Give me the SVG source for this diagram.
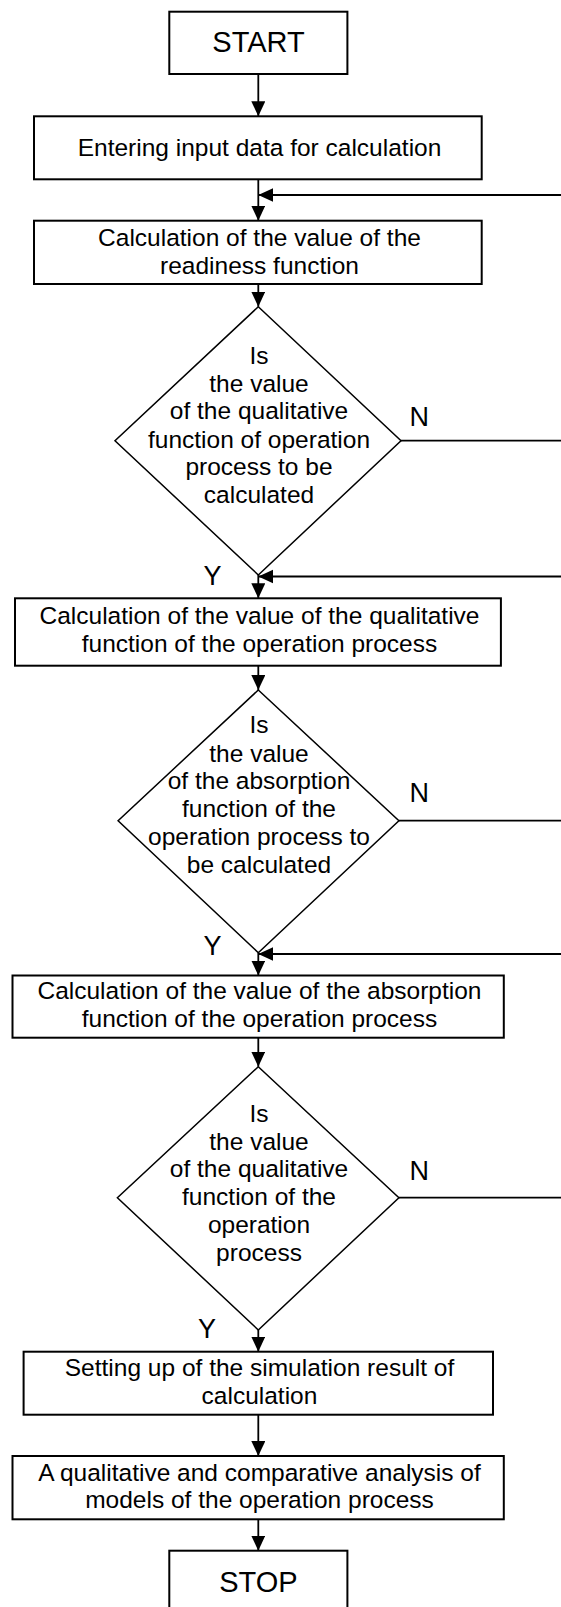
<svg xmlns="http://www.w3.org/2000/svg" width="561" height="1607" viewBox="0 0 561 1607">
<style>
  .box{fill:#fff;stroke:#000;stroke-width:2}
  .dia{fill:#fff;stroke:#000;stroke-width:1.5}
  .t{font-family:"Liberation Sans",Arial,sans-serif;font-size:24.5px;fill:#000;text-anchor:middle}
  .big{font-family:"Liberation Sans",Arial,sans-serif;font-size:29px;fill:#000;text-anchor:middle}
  .lbl{font-family:"Liberation Sans",Arial,sans-serif;font-size:27px;fill:#000}
  .c{fill:none;stroke:#000;stroke-width:1.8}
</style>
<defs>
  <marker id="ah" markerUnits="userSpaceOnUse" markerWidth="16" markerHeight="15" refX="15" refY="7" orient="auto">
    <path d="M0,0 L15,7 L0,14 z" fill="#000"/>
  </marker>
</defs>
<rect width="561" height="1607" fill="#fff"/>
<g id="connectors">
  <line class="c" x1="258.3" y1="74" x2="258.3" y2="116.3" marker-end="url(#ah)"/>
  <line class="c" x1="258.3" y1="179.3" x2="258.3" y2="220.7" marker-end="url(#ah)"/>
  <line class="c" x1="561" y1="195" x2="258.3" y2="195" marker-end="url(#ah)"/>
  <line class="c" x1="258.3" y1="284" x2="258.3" y2="306.7" marker-end="url(#ah)"/>
  <line class="c" x1="401" y1="440.7" x2="561" y2="440.7"/>
  <line class="c" x1="561" y1="576.5" x2="258.3" y2="576.5" marker-end="url(#ah)"/>
  <line class="c" x1="258.3" y1="575" x2="258.3" y2="598.3" marker-end="url(#ah)"/>
  <line class="c" x1="258.3" y1="665.7" x2="258.3" y2="690" marker-end="url(#ah)"/>
  <line class="c" x1="398.9" y1="820.7" x2="561" y2="820.7"/>
  <line class="c" x1="561" y1="954" x2="258.3" y2="954" marker-end="url(#ah)"/>
  <line class="c" x1="258.3" y1="952.7" x2="258.3" y2="975.5" marker-end="url(#ah)"/>
  <line class="c" x1="258.3" y1="1037.7" x2="258.3" y2="1066.7" marker-end="url(#ah)"/>
  <line class="c" x1="398.9" y1="1197.7" x2="561" y2="1197.7"/>
  <line class="c" x1="258.3" y1="1330" x2="258.3" y2="1351.7" marker-end="url(#ah)"/>
  <line class="c" x1="258.3" y1="1414.7" x2="258.3" y2="1456" marker-end="url(#ah)"/>
  <line class="c" x1="258.3" y1="1519.3" x2="258.3" y2="1550.7" marker-end="url(#ah)"/>
  <text class="lbl" x="409.5" y="426">N</text>
  <text class="lbl" x="203.5" y="585">Y</text>
  <text class="lbl" x="409.5" y="802.3">N</text>
  <text class="lbl" x="203.5" y="955">Y</text>
  <text class="lbl" x="409.5" y="1180">N</text>
  <text class="lbl" x="198" y="1338.3">Y</text>
</g>
<g id="start">
  <rect class="box" x="169.3" y="11.7" width="178.1" height="62.3"/>
  <text class="big" x="258.5" y="52.3">START</text>
</g>
<g id="input">
  <rect class="box" x="34" y="116.3" width="447.7" height="63"/>
  <text class="t" x="259.5" y="155.5">Entering input data for calculation</text>
</g>
<g id="readiness">
  <rect class="box" x="34" y="220.7" width="447.7" height="63.3"/>
  <text class="t" x="259.5" y="245.7">Calculation of the value of the</text>
  <text class="t" x="259.5" y="273.5">readiness function</text>
</g>
<g id="decision1">
  <polygon class="dia" points="258.3,306.7 401,440.7 258.3,575 115,440.7"/>
  <text class="t" x="259" y="364">Is</text>
  <text class="t" x="259" y="391.7">the value</text>
  <text class="t" x="259" y="419.3">of the qualitative</text>
  <text class="t" x="259" y="447.7">function of operation</text>
  <text class="t" x="259" y="475">process to be</text>
  <text class="t" x="259" y="502.7">calculated</text>
</g>
<g id="qualitative">
  <rect class="box" x="15" y="598.3" width="485.9" height="67.4"/>
  <text class="t" x="259.5" y="624">Calculation of the value of the qualitative</text>
  <text class="t" x="259.5" y="651.7">function of the operation process</text>
</g>
<g id="decision2">
  <polygon class="dia" points="258.3,690 398.9,820.7 258.3,952.7 118.1,820.7"/>
  <text class="t" x="259" y="733.3">Is</text>
  <text class="t" x="259" y="761.7">the value</text>
  <text class="t" x="259" y="789.3">of the absorption</text>
  <text class="t" x="259" y="817.3">function of the</text>
  <text class="t" x="259" y="845">operation process to</text>
  <text class="t" x="259" y="873.3">be calculated</text>
</g>
<g id="absorption">
  <rect class="box" x="12.5" y="975.5" width="491.3" height="62.2"/>
  <text class="t" x="259.5" y="999">Calculation of the value of the absorption</text>
  <text class="t" x="259.5" y="1026.7">function of the operation process</text>
</g>
<g id="decision3">
  <polygon class="dia" points="258.3,1066.7 398.9,1197.7 258.3,1330 117.4,1197.7"/>
  <text class="t" x="259" y="1121.7">Is</text>
  <text class="t" x="259" y="1150">the value</text>
  <text class="t" x="259" y="1177.3">of the qualitative</text>
  <text class="t" x="259" y="1205">function of the</text>
  <text class="t" x="259" y="1233.3">operation</text>
  <text class="t" x="259" y="1260.7">process</text>
</g>
<g id="simulation">
  <rect class="box" x="23.6" y="1351.7" width="469.4" height="63"/>
  <text class="t" x="259.5" y="1376">Setting up of the simulation result of</text>
  <text class="t" x="259.5" y="1404">calculation</text>
</g>
<g id="analysis">
  <rect class="box" x="12.5" y="1456" width="491.3" height="63.3"/>
  <text class="t" x="259.5" y="1481">A qualitative and comparative analysis of</text>
  <text class="t" x="259.5" y="1508.3">models of the operation process</text>
</g>
<g id="stop">
  <rect class="box" x="169.3" y="1550.7" width="178.1" height="62.3"/>
  <text class="big" x="258.5" y="1591.7">STOP</text>
</g>
</svg>
